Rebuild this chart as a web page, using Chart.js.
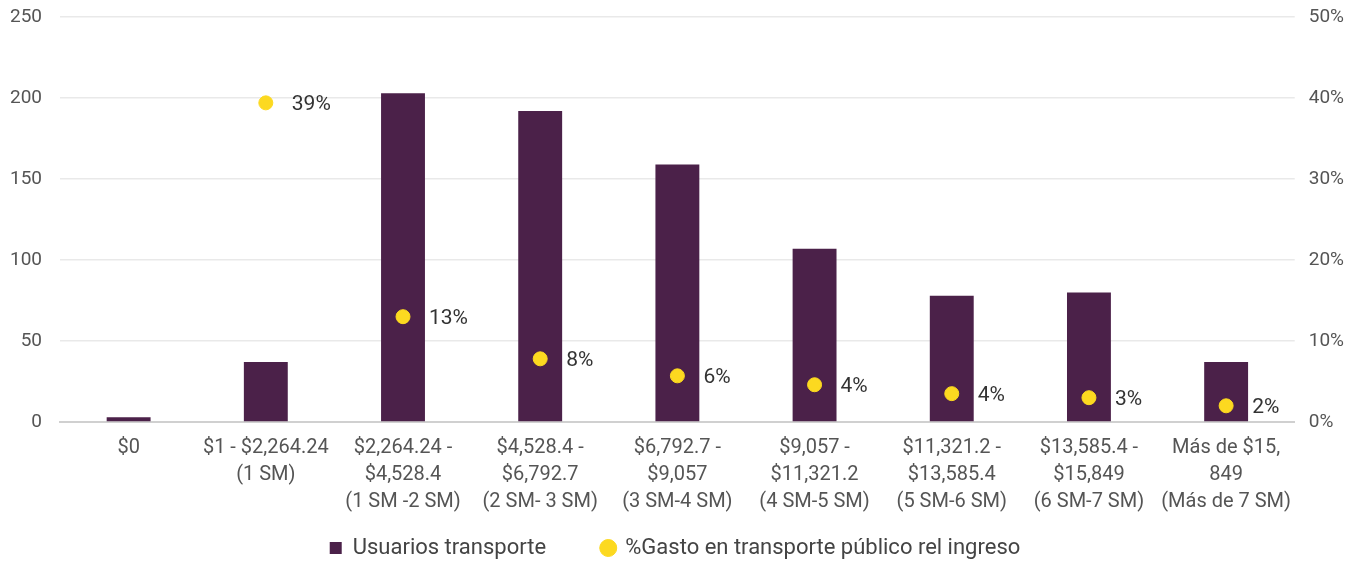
<!DOCTYPE html>
<html>
<head>
<meta charset="utf-8">
<script src="https://cdn.jsdelivr.net/npm/chart.js@4"></script>
<style>
  html, body { margin: 0; padding: 0; background: #fff; }
  #wrap { width: 1364px; height: 569px; }
</style>
</head>
<body>
<div id="wrap"><canvas id="chart"></canvas></div>
<script>
// Categories (income ranges)
const categories = [
  ["$0"],
  ["$1 - $2,264.24", "(1 SM)"],
  ["$2,264.24 -", "$4,528.4", "(1 SM -2 SM)"],
  ["$4,528.4 -", "$6,792.7", "(2 SM- 3 SM)"],
  ["$6,792.7 -", "$9,057", "(3 SM-4 SM)"],
  ["$9,057 -", "$11,321.2", "(4 SM-5 SM)"],
  ["$11,321.2 -", "$13,585.4", "(5 SM-6 SM)"],
  ["$13,585.4 -", "$15,849", "(6 SM-7 SM)"],
  ["Más de $15,", "849", "(Más de 7 SM)"]
];

// Series
const usuarios = [3, 37, 203, 192, 159, 107, 78, 80, 37];
const gastoPct = [null, 39.4, 13, 7.8, 5.7, 4.6, 3.5, 3, 2];
const gastoLabels = ["", "39%", "13%", "8%", "6%", "4%", "4%", "3%", "2%"];

// Axis ticks
const leftTicks = [0, 50, 100, 150, 200, 250];
const rightTicks = [0, 10, 20, 30, 40, 50];

const FONT = "Roboto";
const purple = "#4b2149";
const yellow = "#fcd920";

// Point value labels, drawn to the right of each point
const pointLabels = {
  id: "pointLabels",
  afterDatasetsDraw(chart) {
    const meta = chart.getDatasetMeta(1);
    const ctx = chart.ctx;
    ctx.save();
    ctx.font = "21px " + FONT;
    ctx.fillStyle = "#333";
    ctx.textAlign = "left";
    ctx.textBaseline = "middle";
    meta.data.forEach((pt, i) => {
      if (gastoPct[i] == null) return;
      ctx.fillText(gastoLabels[i], pt.x + 26, pt.y + 2);
    });
    ctx.restore();
  }
};

// let the top tick label sit near the canvas edge
const noTopPad = scale => { scale.paddingTop = 0; };

new Chart(document.getElementById("chart"), {
  type: "bar",
  data: {
    labels: categories,
    datasets: [
      {
        label: "Usuarios transporte",
        data: usuarios,
        backgroundColor: purple,
        barPercentage: 0.32,
        categoryPercentage: 1,
        yAxisID: "y",
        order: 1
      },
      {
        type: "line",
        label: "%Gasto en transporte público rel ingreso",
        data: gastoPct,
        showLine: false,
        pointRadius: 7,
        pointHoverRadius: 7,
        pointBackgroundColor: yellow,
        pointBorderColor: yellow,
        backgroundColor: yellow,
        borderColor: yellow,
        yAxisID: "y1",
        order: 0
      }
    ]
  },
  options: {
    responsive: true,
    maintainAspectRatio: false,
    animation: false,
    layout: { padding: { top: 17, left: -8, right: 6, bottom: 0 } },
    plugins: {
      tooltip: { enabled: false },
      legend: {
        position: "bottom",
        labels: {
          usePointStyle: true,
          boxWidth: 12,
          boxHeight: 12,
          padding: 18,
          color: "#444",
          font: { family: FONT, size: 22 },
          generateLabels(chart) {
            const items = Chart.defaults.plugins.legend.labels.generateLabels(chart);
            items.sort((a, b) => a.datasetIndex - b.datasetIndex);
            items.forEach(it => {
              if (it.datasetIndex === 0) {
                it.pointStyle = "rect";
                it.text = it.text + "       ";
              } else {
                it.pointStyle = "circle";
              }
            });
            return items;
          }
        }
      }
    },
    scales: {
      x: {
        grid: { display: false },
        border: { display: true, color: "#d0d0d0", width: 2 },
        ticks: {
          color: "#555",
          font: { family: FONT, size: 20, lineHeight: 1.35 },
          maxRotation: 0,
          autoSkip: false,
          padding: 4
        }
      },
      y: {
        position: "left",
        min: 0,
        max: 250,
        afterBuildTicks(axis) { axis.ticks = leftTicks.map(v => ({ value: v })); },
        afterFit: noTopPad,
        grid: { color: "#e9e9e9", lineWidth: 1.5, drawTicks: false },
        border: { display: false },
        ticks: { color: "#555", font: { family: FONT, size: 19 }, padding: 18 }
      },
      y1: {
        position: "right",
        min: 0,
        max: 50,
        afterBuildTicks(axis) { axis.ticks = rightTicks.map(v => ({ value: v })); },
        afterFit: noTopPad,
        grid: { display: false, drawTicks: false },
        border: { display: false },
        ticks: {
          color: "#555",
          font: { family: FONT, size: 19 },
          padding: 14,
          callback: v => v + "%"
        }
      }
    }
  },
  plugins: [pointLabels]
});
</script>
</body>
</html>
